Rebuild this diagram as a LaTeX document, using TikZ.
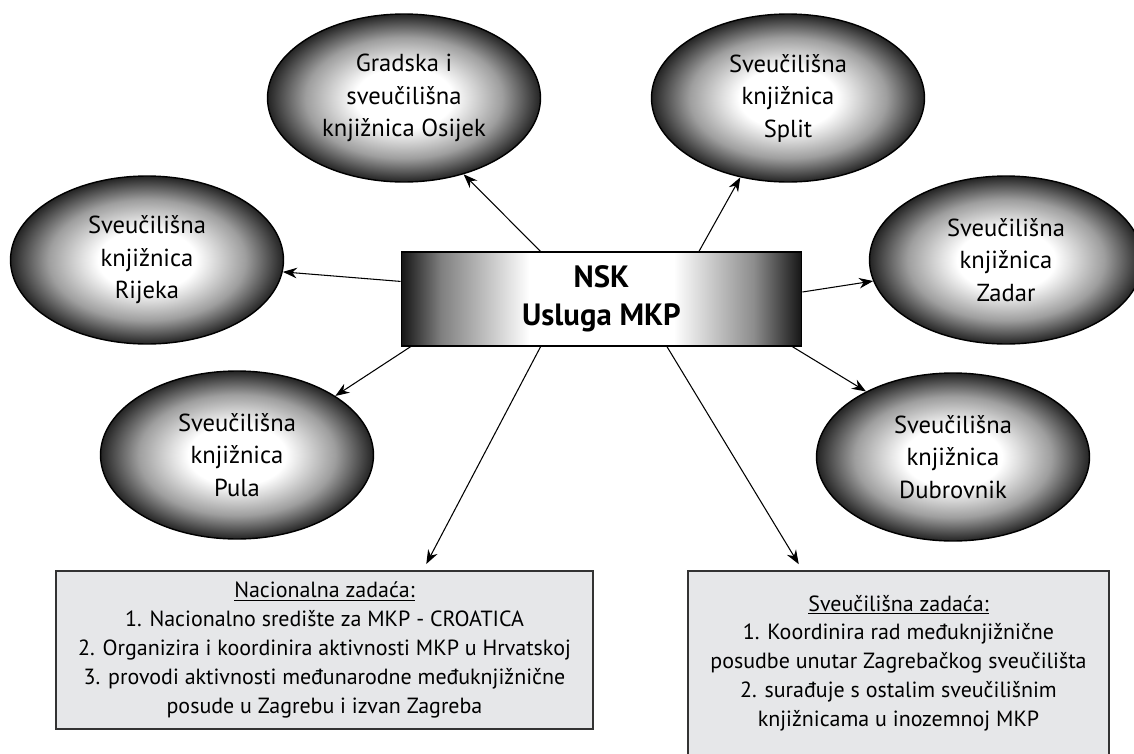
\documentclass[tikz,border=0pt]{standalone}
\usepackage{fontspec}
\setmainfont{PT Sans}
\usetikzlibrary{shapes.geometric,arrows.meta}
\definecolor{zadgray}{HTML}{E6E7E9}
\pgfdeclareradialshading{knjshade}{\pgfpoint{0bp}{0bp}}{color(0bp)=(white); color(9bp)=(white); color(18bp)=(black!38); color(25bp)=(black!86); color(50bp)=(black!86)}
\pgfdeclarehorizontalshading{nskshade}{100bp}{color(0bp)=(black!92); color(25bp)=(black!92); color(30bp)=(black!50); color(41bp)=(white); color(59bp)=(white); color(69bp)=(black!45); color(75bp)=(black!92); color(100bp)=(black!92)}
\begin{document}
\begin{tikzpicture}[x=0.02cm,y=-0.02cm,
  knj/.style={ellipse,draw,line width=0.8pt,shading=knjshade,minimum width=5.46cm,minimum height=3.36cm,inner sep=0pt,align=center,font=\fontsize{14}{18.5}\selectfont},
  nsk/.style={rectangle,draw,line width=0.6pt,shading=nskshade,minimum width=8.02cm,minimum height=1.88cm,align=center,font=\fontsize{17.5}{21.5}\selectfont\bfseries},
  zad/.style={rectangle,draw=black!80,line width=0.9pt,fill=zadgray,align=center,font=\fontsize{12.5}{16.4}\selectfont},
  arr/.style={-{Stealth[length=8pt,width=6pt]},line width=0.6pt}]
\path[use as bounding box,fill=white] (0,0) rectangle (1134,754);
% sredisnji cvor
\node [nsk] (n) at (601.5,299) {NSK\\Usluga MKP};
% knjiznice
\node [knj] (o) at (404,98) {Gradska i\\sveučilišna\\knjižnica Osijek};
\node [knj] (s) at (788,98) {Sveučilišna\\knjižnica\\Split};
\node [knj] (r) at (147,260) {Sveučilišna\\knjižnica\\Rijeka};
\node [knj] (z) at (1006,260) {Sveučilišna\\knjižnica\\Zadar};
\node [knj] (p) at (237,455) {Sveučilišna\\knjižnica\\Pula};
\node [knj] (d) at (953,457) {Sveučilišna\\knjižnica\\Dubrovnik};
% zadace
\node [zad,minimum width=10.74cm,minimum height=3.16cm] (nz) at (324.5,650)
  {\underline{Nacionalna zadaća:}\\
   1. Nacionalno središte za MKP - CROATICA\\
   2. Organizira i koordinira aktivnosti MKP u Hrvatskoj\\
   3. provodi aktivnosti međunarodne međuknjižnične\\
   posude u Zagrebu i izvan Zagreba};
\node [zad,minimum width=8.42cm,minimum height=3.68cm] (sz) at (898.5,663)
  {\underline{Sveučilišna zadaća:}\\
   1. Koordinira rad međuknjižnične\\
   posudbe unutar Zagrebačkog sveučilišta\\
   2. surađuje s ostalim sveučilišnim\\
   knjižnicama u inozemnoj MKP};
% strelice
\draw [arr] (n.142) -- (o.-52);
\draw [arr] (n.26) -- (s.-121);
\draw [arr] (n.175) -- (r.-5);
\draw [arr] (n.2) -- (z.189);
\draw [arr] (n.194) -- (p.31);
\draw [arr] (n.-14) -- (d.143);
\draw [arr,shorten >=4pt] (n.218) -- (nz.39);
\draw [arr,shorten >=4pt] (n.-36) -- (sz.136);
\end{tikzpicture}
\end{document}
